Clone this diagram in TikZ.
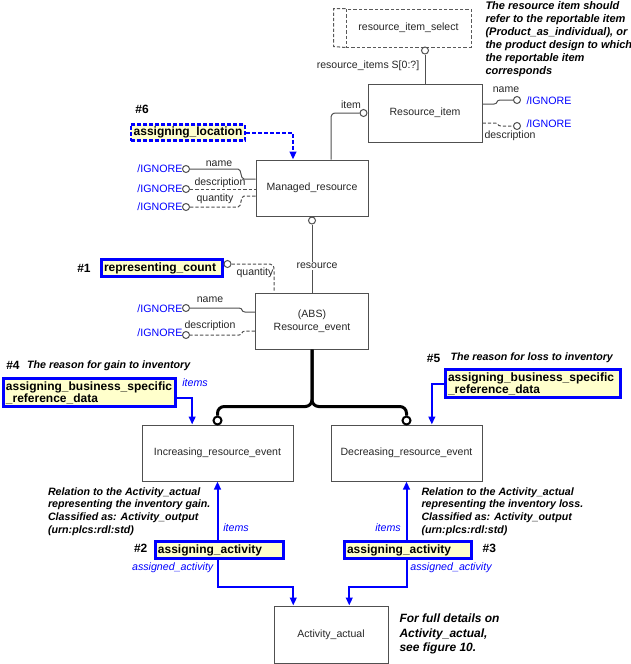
\documentclass[tikz,border=0pt]{standalone}
\usepackage{fontspec}
\setmainfont{Liberation Sans}
\usetikzlibrary{arrows.meta,positioning}
\definecolor{ublue}{RGB}{0,0,255}
\definecolor{uyellow}{RGB}{255,255,204}
\definecolor{uline}{RGB}{80,80,80}
\tikzset{every picture/.style={line width=0.75pt}}
\tikzset{
  entity/.style={draw=uline, fill=white, text=black!85, font=\fontsize{7.9}{9.5}\selectfont, align=center, inner sep=0pt},
  refbox/.style={draw=ublue, line width=2pt, fill=uyellow, font=\fontsize{9}{9}\selectfont\bfseries, align=left, inner xsep=2pt, inner ysep=0pt},
  endc/.style={circle, draw=uline, fill=white, minimum size=5.25pt, inner sep=0pt},
  treec/.style={circle, draw=black, line width=1.5pt, fill=white, minimum size=6pt, inner sep=0pt},
  lbl/.style={font=\fontsize{7.9}{9}\selectfont, inner sep=0pt, text=black!85},
  ign/.style={font=\fontsize{8}{9}\selectfont, inner sep=0pt, text=ublue},
  role/.style={font=\fontsize{8}{9}\selectfont\itshape, inner sep=0pt, text=ublue},
  note/.style={font=\fontsize{8}{9.5}\selectfont\bfseries\itshape, align=left, inner sep=0pt},
  tag/.style={font=\fontsize{9}{10}\selectfont\bfseries, inner sep=0pt},
  rel/.style={draw=uline},
  opt/.style={draw=uline, dash pattern=on 2.5pt off 1.5pt},
  bref/.style={draw=ublue, line width=1.5pt, -{Triangle[length=6pt,width=5pt]}},
  tree/.style={draw=black, line width=2.25pt, rounded corners=5pt},
}
\begin{document}
\begin{tikzpicture}[x=0.75pt,y=0.75pt,yscale=-1,xscale=1]
%set diagram left start at 0, and has height of 664
\useasboundingbox (0,0) rectangle (631,664);

%Shape: Select type [id:sel]
\node[entity, draw=gray!70!black, dash pattern=on 2.5pt off 1.5pt, minimum width=93.75pt, minimum height=28.5pt] (sel) at (408.5,28) {resource\_item\_select};
\draw[draw=gray!70!black, dash pattern=on 2.5pt off 1.5pt] (sel.north west) -- ++(-12,0) -- ++(0,38) -- (sel.south west);
%Shape: Entities
\node[entity, minimum width=85.5pt, minimum height=43.5pt] (ri) at (425,113) {Resource\_item};
\node[entity, minimum width=84pt, minimum height=42pt] (mr) at (312,188) {Managed\_resource};
\node[entity, minimum width=84.75pt, minimum height=42pt] (re) at (312,321) {(ABS)\\Resource\_event};
\node[entity, minimum width=113.25pt, minimum height=42pt] (inc) at (217.5,453) {Increasing\_resource\_event};
\node[entity, minimum width=113.25pt, minimum height=42pt] (dec) at (406.5,453) {Decreasing\_resource\_event};
\node[entity, minimum width=85.5pt, minimum height=42.75pt] (act) at (331,634.5) {Activity\_actual};

%Shape: Reference boxes
\node[refbox, dash pattern=on 3pt off 1.5pt, minimum width=85pt, minimum height=12.3pt] (loc) at (188,132.5) {assigning\_location};
\node[refbox, text width=87pt, minimum height=13pt] (cnt) at (162,268) {representing\_count};
\node[refbox, text width=125.3pt, minimum height=21.3pt] (bs1) at (89.5,392.5) {assigning\_business\_specific\\\_reference\_data};
\node[refbox, text width=127.5pt, minimum height=21.3pt] (bs2) at (533,383.5) {assigning\_business\_specific\\\_reference\_data};
\node[refbox, text width=92.3pt, minimum height=13pt] (aa1) at (219.5,550) {assigning\_activity};
\node[refbox, text width=91.5pt, minimum height=13pt] (aa2) at (408,550) {assigning\_activity};

%Shape: Circles
\node[endc] (sc) at (425,50.5) {};
\node[endc, left=0pt of ri] (ric) {};
\node[endc] (rnc) at (517,100) {};
\node[endc] (rdc) at (517,126) {};
\node[endc] (mnc) at (186,169) {};
\node[endc] (mdc) at (186,189) {};
\node[endc] (mqc) at (186,207) {};
\node[endc, below=0pt of mr] (mrc) {};
\node[endc] (cqc) at (227.5,264) {};
\node[endc] (enc) at (186,308) {};
\node[endc] (edc) at (186,335) {};
\node[treec] (ic) at (217.5,420.5) {};
\node[treec] (dc) at (406.5,420.5) {};

%Straight Lines
\draw[rel] (sc) -- (ri);
\draw[rel] (mrc) -- (re);
\draw[opt] (mdc) -- (mdc -| mr.west);
%Curve Lines
\draw[rel] (ri.east) ++(0,-9) -- (494,104) .. controls (498,104) and (496,100) .. (500,100) -- (rnc);
\draw[opt] (ri.east) ++(0,10) -- (495,123) .. controls (499,123) and (497,126) .. (501,126) -- (rdc);
\draw[rel] (mr.north) ++(19,0) -- (331,119) .. controls (331,115) and (332,113) .. (336,113) -- (ric);
\draw[rel] (mr.west) ++(0,-9) -- (244,179) .. controls (240,179) and (242,169) .. (238,169) -- (mnc);
\draw[opt] (mr.west) ++(0,8) -- (244,196) .. controls (240,196) and (242,207) .. (238,207) -- (mqc);
\draw[opt] (cqc) -- (270,264) .. controls (273,264) and (274,266) .. (274,270) -- ([xshift=-28.5pt]re.north);
\draw[rel] (re.west) ++(0,-9) -- (245,312) .. controls (241,312) and (243,308) .. (239,308) -- (enc);
\draw[opt] (re.west) ++(0,10) -- (245,331) .. controls (241,331) and (243,335) .. (239,335) -- (edc);
%Subtype tree
\draw[tree] (re.south) -- ++(0,57) -| (ic);
\draw[tree] (re.south) -- ++(0,57) -| (dc);
%Blue references
\draw[bref, dash pattern=on 3pt off 1.5pt] (loc.east) -| ([xshift=-14.25pt]mr.north);
\draw[bref] (bs1.east) ++(0,5.5) -| ([xshift=-19pt]inc.north);
\draw[bref] (bs2.west) -| ([xshift=19pt]dec.north);
\draw[bref] (inc.south |- aa1.north) -- (inc.south);
\draw[bref] (inc.south |- aa1.south) -- ++(0,26.7) -| ([xshift=-28.3pt]act.north);
\draw[bref] (dec.south |- aa2.north) -- (dec.south);
\draw[bref] (dec.south |- aa2.south) -- ++(0,26.7) -| ([xshift=13.7pt]act.north);

%Text labels
\node[lbl] (selrole) at (368,66) {resource\_items S[0:?]};
\node[lbl] (itemrole) at (351,105) {item};
\node[lbl] (rinm) at (506,90) {name};
\node[lbl] (ridsc) at (510,136) {description};
\node[ign, anchor=west] (rinmi) at (526,101) {/IGNORE};
\node[ign, anchor=west] (ridsci) at (526,124) {/IGNORE};
\node[lbl] (mrnm) at (219,164) {name};
\node[lbl] (mrdsc) at (220,183) {description};
\node[lbl] (mrqty) at (215,199) {quantity};
\node[ign, anchor=east] (mrnmi) at (183,169) {/IGNORE};
\node[ign, anchor=east] (mrdsci) at (183,189) {/IGNORE};
\node[ign, anchor=east] (mrqtyi) at (183,207) {/IGNORE};
\node[lbl, fill=white, inner sep=0.5pt] (resrole) at (317,266) {resource};
\node[lbl] (cntqty) at (255,273) {quantity};
\node[lbl] (renm) at (210,300) {name};
\node[lbl] (redsc) at (210,326) {description};
\node[ign, anchor=east] (renmi) at (183,309) {/IGNORE};
\node[ign, anchor=east] (redsci) at (183,333) {/IGNORE};
\node[role] (bs1role) at (195,383) {items};
\node[role] (aa1items) at (236,528) {items};
\node[role] (aa2items) at (388,528) {items};
\node[role] (aa1role) at (172.7,568) {assigned\_activity};
\node[role] (aa2role) at (451,568) {assigned\_activity};

%Tags and notes
\node[tag] (t6) at (142,109) {\#6};
\node[tag] (t1) at (84,268) {\#1};
\node[tag] (t4) at (13,365.5) {\#4};
\node[tag] (t5) at (433.6,358) {\#5};
\node[tag] (t2) at (140.7,548.5) {\#2};
\node[tag] (t3) at (489.3,548.5) {\#3};
\node[note, font=\fontsize{8.25}{9.75}\selectfont\bfseries\itshape, anchor=west] (n0) at (485,39.5) {The resource item should\\refer to the reportable item\\(Product\_as\_individual), or\\the product design to which\\the reportable item\\corresponds};
\node[note, anchor=west] (n4) at (26.7,365.5) {The reason for gain to inventory};
\node[note, anchor=west] (n5) at (450,358) {The reason for loss to inventory};
\node[note, anchor=west] (n2) at (47.5,511.3) {Relation to the Activity\_actual\\representing the inventory gain.\\Classified as: Activity\_output\\(urn:plcs:rdl:std)};
\node[note, anchor=west] (n3) at (421,511.3) {Relation to the Activity\_actual\\representing the inventory loss.\\Classified as: Activity\_output\\(urn:plcs:rdl:std)};
\node[note, font=\fontsize{9}{10.9}\selectfont\bfseries\itshape, anchor=west] (n7) at (399,634) {For full details on\\Activity\_actual,\\see figure 10.};

\end{tikzpicture}
\end{document}
